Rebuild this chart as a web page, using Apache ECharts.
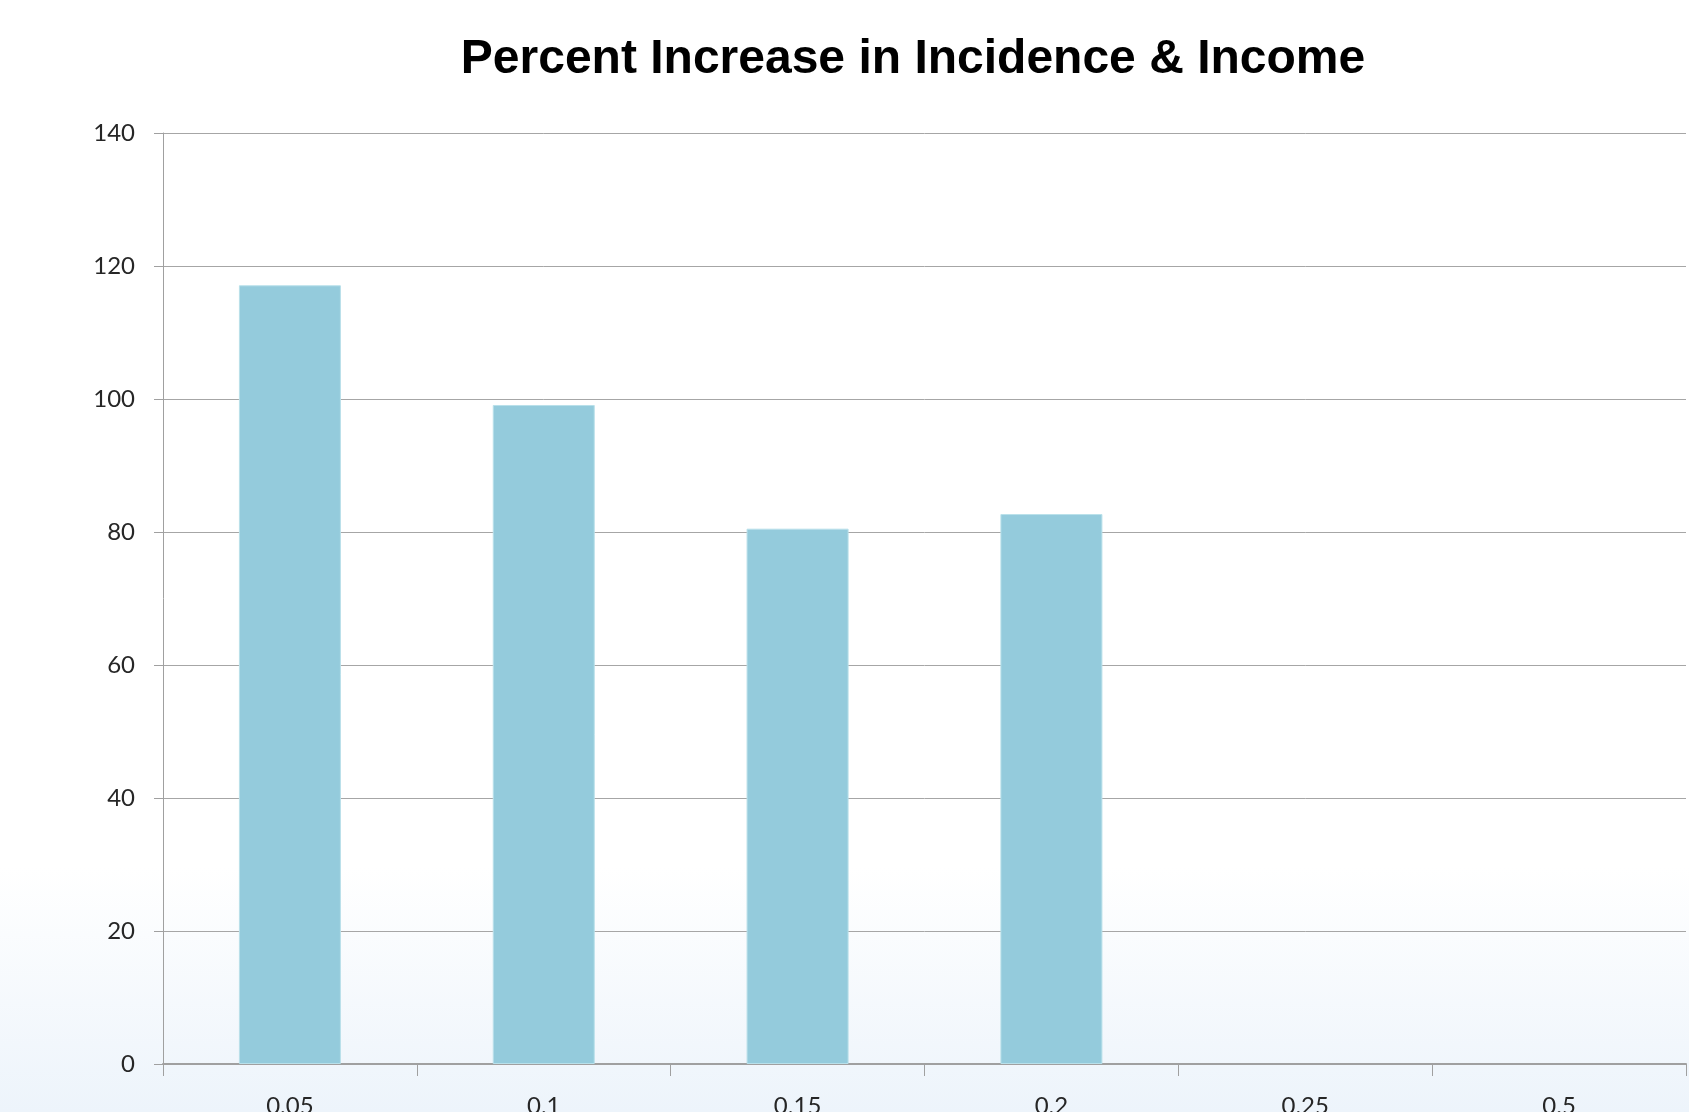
<!DOCTYPE html>
<html><head><meta charset="utf-8">
<script src="https://cdn.jsdelivr.net/npm/echarts@6/dist/echarts.min.js"></script>
<style>html,body{margin:0;padding:0;}#c{width:1689px;height:1112px;}</style>
</head><body><div id="c"></div>
<script>
const titleText = 'Percent Increase in Incidence & Income';
const categories = ['0.05', '0.1', '0.15', '0.2', '0.25', '0.5'];
const values = [117.1, 99.1, 80.5, 82.7, null, null];
const yTicks = { min: 0, max: 140, interval: 20 };

const chart = echarts.init(document.getElementById('c'));
chart.setOption({
  animation: false,
  backgroundColor: {
    type: 'linear', x: 0, y: 0, x2: 0, y2: 1,
    colorStops: [
      { offset: 0, color: '#ffffff' },
      { offset: 0.78, color: '#ffffff' },
      { offset: 1, color: '#edf4fb' }
    ]
  },
  title: {
    text: titleText,
    left: 908, top: 31, textAlign: 'center',
    textStyle: { fontFamily: 'Liberation Sans, Arial', fontWeight: 'bold', fontSize: 48, color: '#000' }
  },
  grid: { left: 163, right: 3, top: 133, bottom: 48, containLabel: false, outerBoundsMode: 'none' },
  xAxis: {
    type: 'category', data: categories,
    boundaryGap: true,
    axisLine: { lineStyle: { color: '#a0a0a0', width: 2 } },
    axisTick: { show: true, length: 12, alignWithLabel: false, lineStyle: { color: '#a0a0a0', width: 1 } },
    axisLabel: { margin: 30, fontSize: 24, color: '#262626', fontFamily: 'Lato, Open Sans, sans-serif' },
    splitLine: { show: false }
  },
  yAxis: {
    type: 'value', min: yTicks.min, max: yTicks.max, interval: yTicks.interval,
    axisLine: { show: true, lineStyle: { color: '#a0a0a0', width: 1 } },
    axisTick: { show: true, length: 9, lineStyle: { color: '#a0a0a0' } },
    axisLabel: { margin: 28, fontSize: 24, color: '#262626', fontFamily: 'Lato, Open Sans, sans-serif' },
    splitLine: { show: true, lineStyle: { color: '#a6a6a6', width: 1 } }
  },
  series: [{
    type: 'bar', data: values, barWidth: 102,
    itemStyle: { color: '#94cbdc', borderColor: '#b9e0ea', borderWidth: 1 }
  }]
});
</script></body></html>
